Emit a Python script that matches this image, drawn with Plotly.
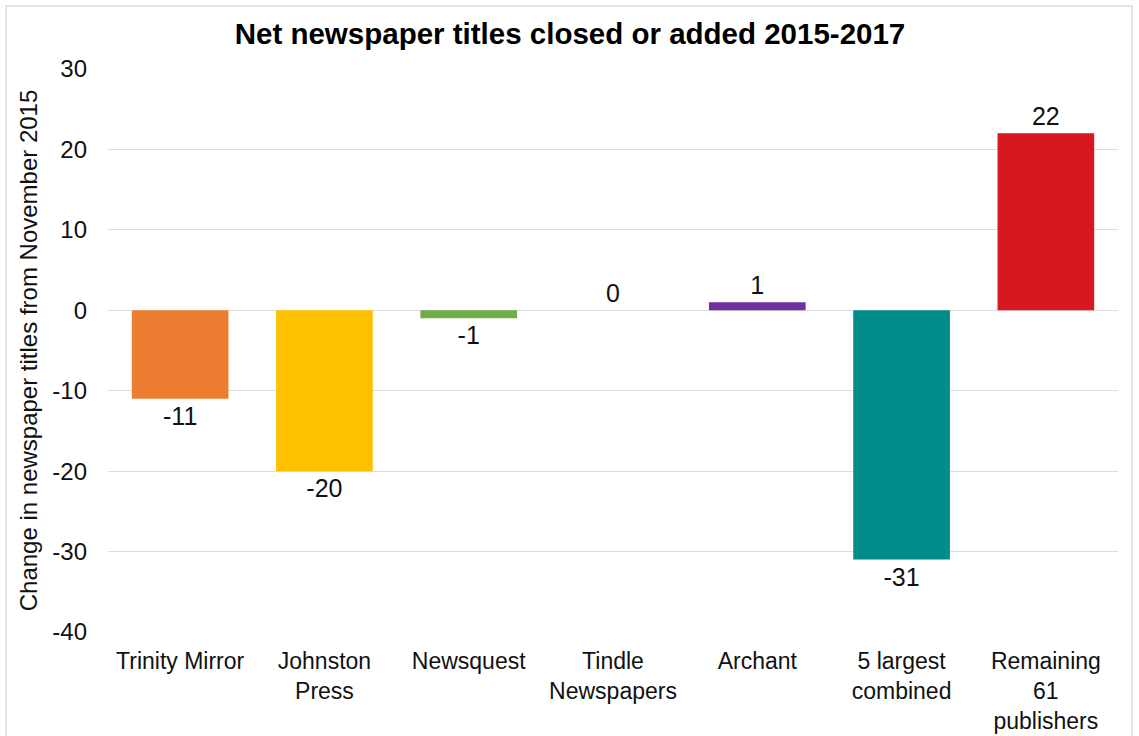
import plotly.graph_objects as go

categories = ["Trinity Mirror", "Johnston<br>Press", "Newsquest", "Tindle<br>Newspapers",
              "Archant", "5 largest<br>combined", "Remaining<br>61<br>publishers"]
values = [-11, -20, -1, 0, 1, -31, 22]
colors = ["#ED7D31", "#FFC000", "#70AD47", "#A5A5A5", "#7030A0", "#008C8A", "#D7191F"]
y_ticks = [30, 20, 10, 0, -10, -20, -30, -40]

font_family = "Liberation Sans, Arial, Helvetica, sans-serif"

fig = go.Figure(go.Bar(
    x=categories,
    y=values,
    marker=dict(color=colors, line=dict(width=0)),
    text=[str(v) for v in values],
    textposition="outside",
    textfont=dict(size=25, color="#111111", family=font_family),
    cliponaxis=False,
    hoverinfo="skip",
))

W, H = 1139, 736
ml, mr, mt, mb = 108, 21, 69, 104
pw, ph = W - ml - mr, H - mt - mb

fig.update_layout(
    width=W, height=H,
    margin=dict(l=ml, r=mr, t=mt, b=mb, autoexpand=False),
    paper_bgcolor="white", plot_bgcolor="white",
    font=dict(family=font_family, size=24, color="#111111"),
    title=dict(text="<b>Net newspaper titles closed or added 2015-2017</b>",
               x=570 / W, xref="container", xanchor="center",
               y=1 - 34 / H, yref="container", yanchor="middle",
               font=dict(size=29.5, color="#000000", family=font_family)),
    bargap=0.33,
    showlegend=False,
    xaxis=dict(showgrid=False, showline=False, ticks="", zeroline=False,
               automargin=False, ticklabelstandoff=13,
               tickfont=dict(size=23, color="#111111")),
    yaxis=dict(range=[-40, 30], tickvals=y_ticks, ticktext=[str(t) for t in y_ticks],
               showgrid=True, gridcolor="#dddddd", gridwidth=1,
               zeroline=True, zerolinecolor="#dddddd", zerolinewidth=1,
               showline=False, ticks="", ticklabelstandoff=20, automargin=False,
               tickfont=dict(size=24, color="#111111"),
               title=dict(text="Change in newspaper titles from November 2015",
                          font=dict(size=24, color="#111111"), standoff=7)),
    shapes=[dict(type="rect", xref="paper", yref="paper",
                 x0=(6 - ml) / pw, x1=(1132 - ml) / pw,
                 y0=-0.5, y1=(H - mb - 6) / ph,
                 line=dict(color="#dcdcdc", width=1.5), layer="below")],
)

fig.write_html("out.html",
               config={"displayModeBar": False, "staticPlot": True},
               post_script="document.body.style.margin='0';document.body.style.overflow='hidden';")
